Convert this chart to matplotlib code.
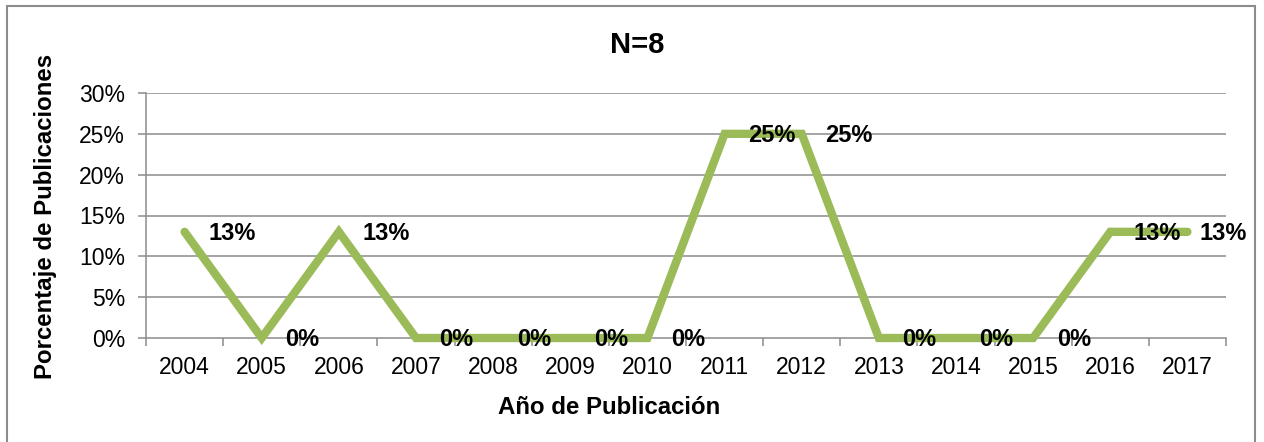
import numpy as np
import matplotlib
matplotlib.use('Agg')
import matplotlib.pyplot as plt
from matplotlib.ticker import FixedLocator, NullFormatter

plt.rcParams['font.family'] = ['Liberation Sans', 'DejaVu Sans']

years = ['2004', '2005', '2006', '2007', '2008', '2009', '2010',
         '2011', '2012', '2013', '2014', '2015', '2016', '2017']
porcentaje = [13, 0, 13, 0, 0, 0, 0, 25, 25, 0, 0, 0, 13, 13]
y_ticks = [0, 5, 10, 15, 20, 25, 30]

W, H = 1264, 442
fig = plt.figure(figsize=(W / 100, H / 100), dpi=100)
ax = fig.add_axes([146 / W, 1 - 338 / H, 1080 / W, 245 / H])

# chart border
fig.patches.append(plt.Rectangle((7 / W, -0.05), 1248 / W, 1 - 6 / H + 0.05,
                                 transform=fig.transFigure, fill=False,
                                 edgecolor='#8c8c8c', linewidth=1.5))

x = np.arange(len(years))
grid_c = '#8c8c8c'
for t in y_ticks[1:]:
    ax.axhline(t, color=grid_c, linewidth=1.1, zorder=1)

ax.plot(x, porcentaje, color='#9BBB59', linewidth=6, solid_capstyle='round',
        solid_joinstyle='miter', zorder=3, clip_on=False)

for xi, v in zip(x, porcentaje):
    # last label is pushed in so it stays inside the chart border
    dx = 9 if xi == x[-1] else 17
    ax.annotate(f'{v}%', (xi, v), xytext=(dx, -1), textcoords='offset points',
                ha='left', va='center', fontsize=17, fontweight='bold', zorder=4)

ax.set_xlim(-0.5, len(years) - 0.5)
ax.set_ylim(0, 30)
ax.set_yticks(y_ticks)
ax.set_yticklabels([f'{t}%' for t in y_ticks], fontsize=16.5)
ax.xaxis.set_major_locator(FixedLocator(np.arange(-0.5, len(years), 1)))
ax.xaxis.set_major_formatter(NullFormatter())
ax.xaxis.set_minor_locator(FixedLocator(x))
ax.set_xticklabels(years, minor=True, fontsize=16.5)
ax.tick_params(axis='x', which='major', length=6, color=grid_c, width=1.1)
ax.tick_params(axis='x', which='minor', length=0, pad=13)
ax.tick_params(axis='y', length=6, color=grid_c, width=1.1, pad=9)

for s in ['top', 'right']:
    ax.spines[s].set_visible(False)
for s in ['left', 'bottom']:
    ax.spines[s].set_color(grid_c)
    ax.spines[s].set_linewidth(1.1)

fig.text(637 / W, 1 - 45 / H, 'N=8', fontsize=21, fontweight='bold',
         ha='center', va='center')
fig.text(609 / W, 1 - 408 / H, 'Año de Publicación', fontsize=17.3,
         fontweight='bold', ha='center', va='center')
fig.text(46 / W, 1 - 216 / H, 'Porcentaje de Publicaciones', fontsize=17.3,
         fontweight='bold', ha='center', va='center', rotation=90)

fig.savefig('out.png', dpi=100)
